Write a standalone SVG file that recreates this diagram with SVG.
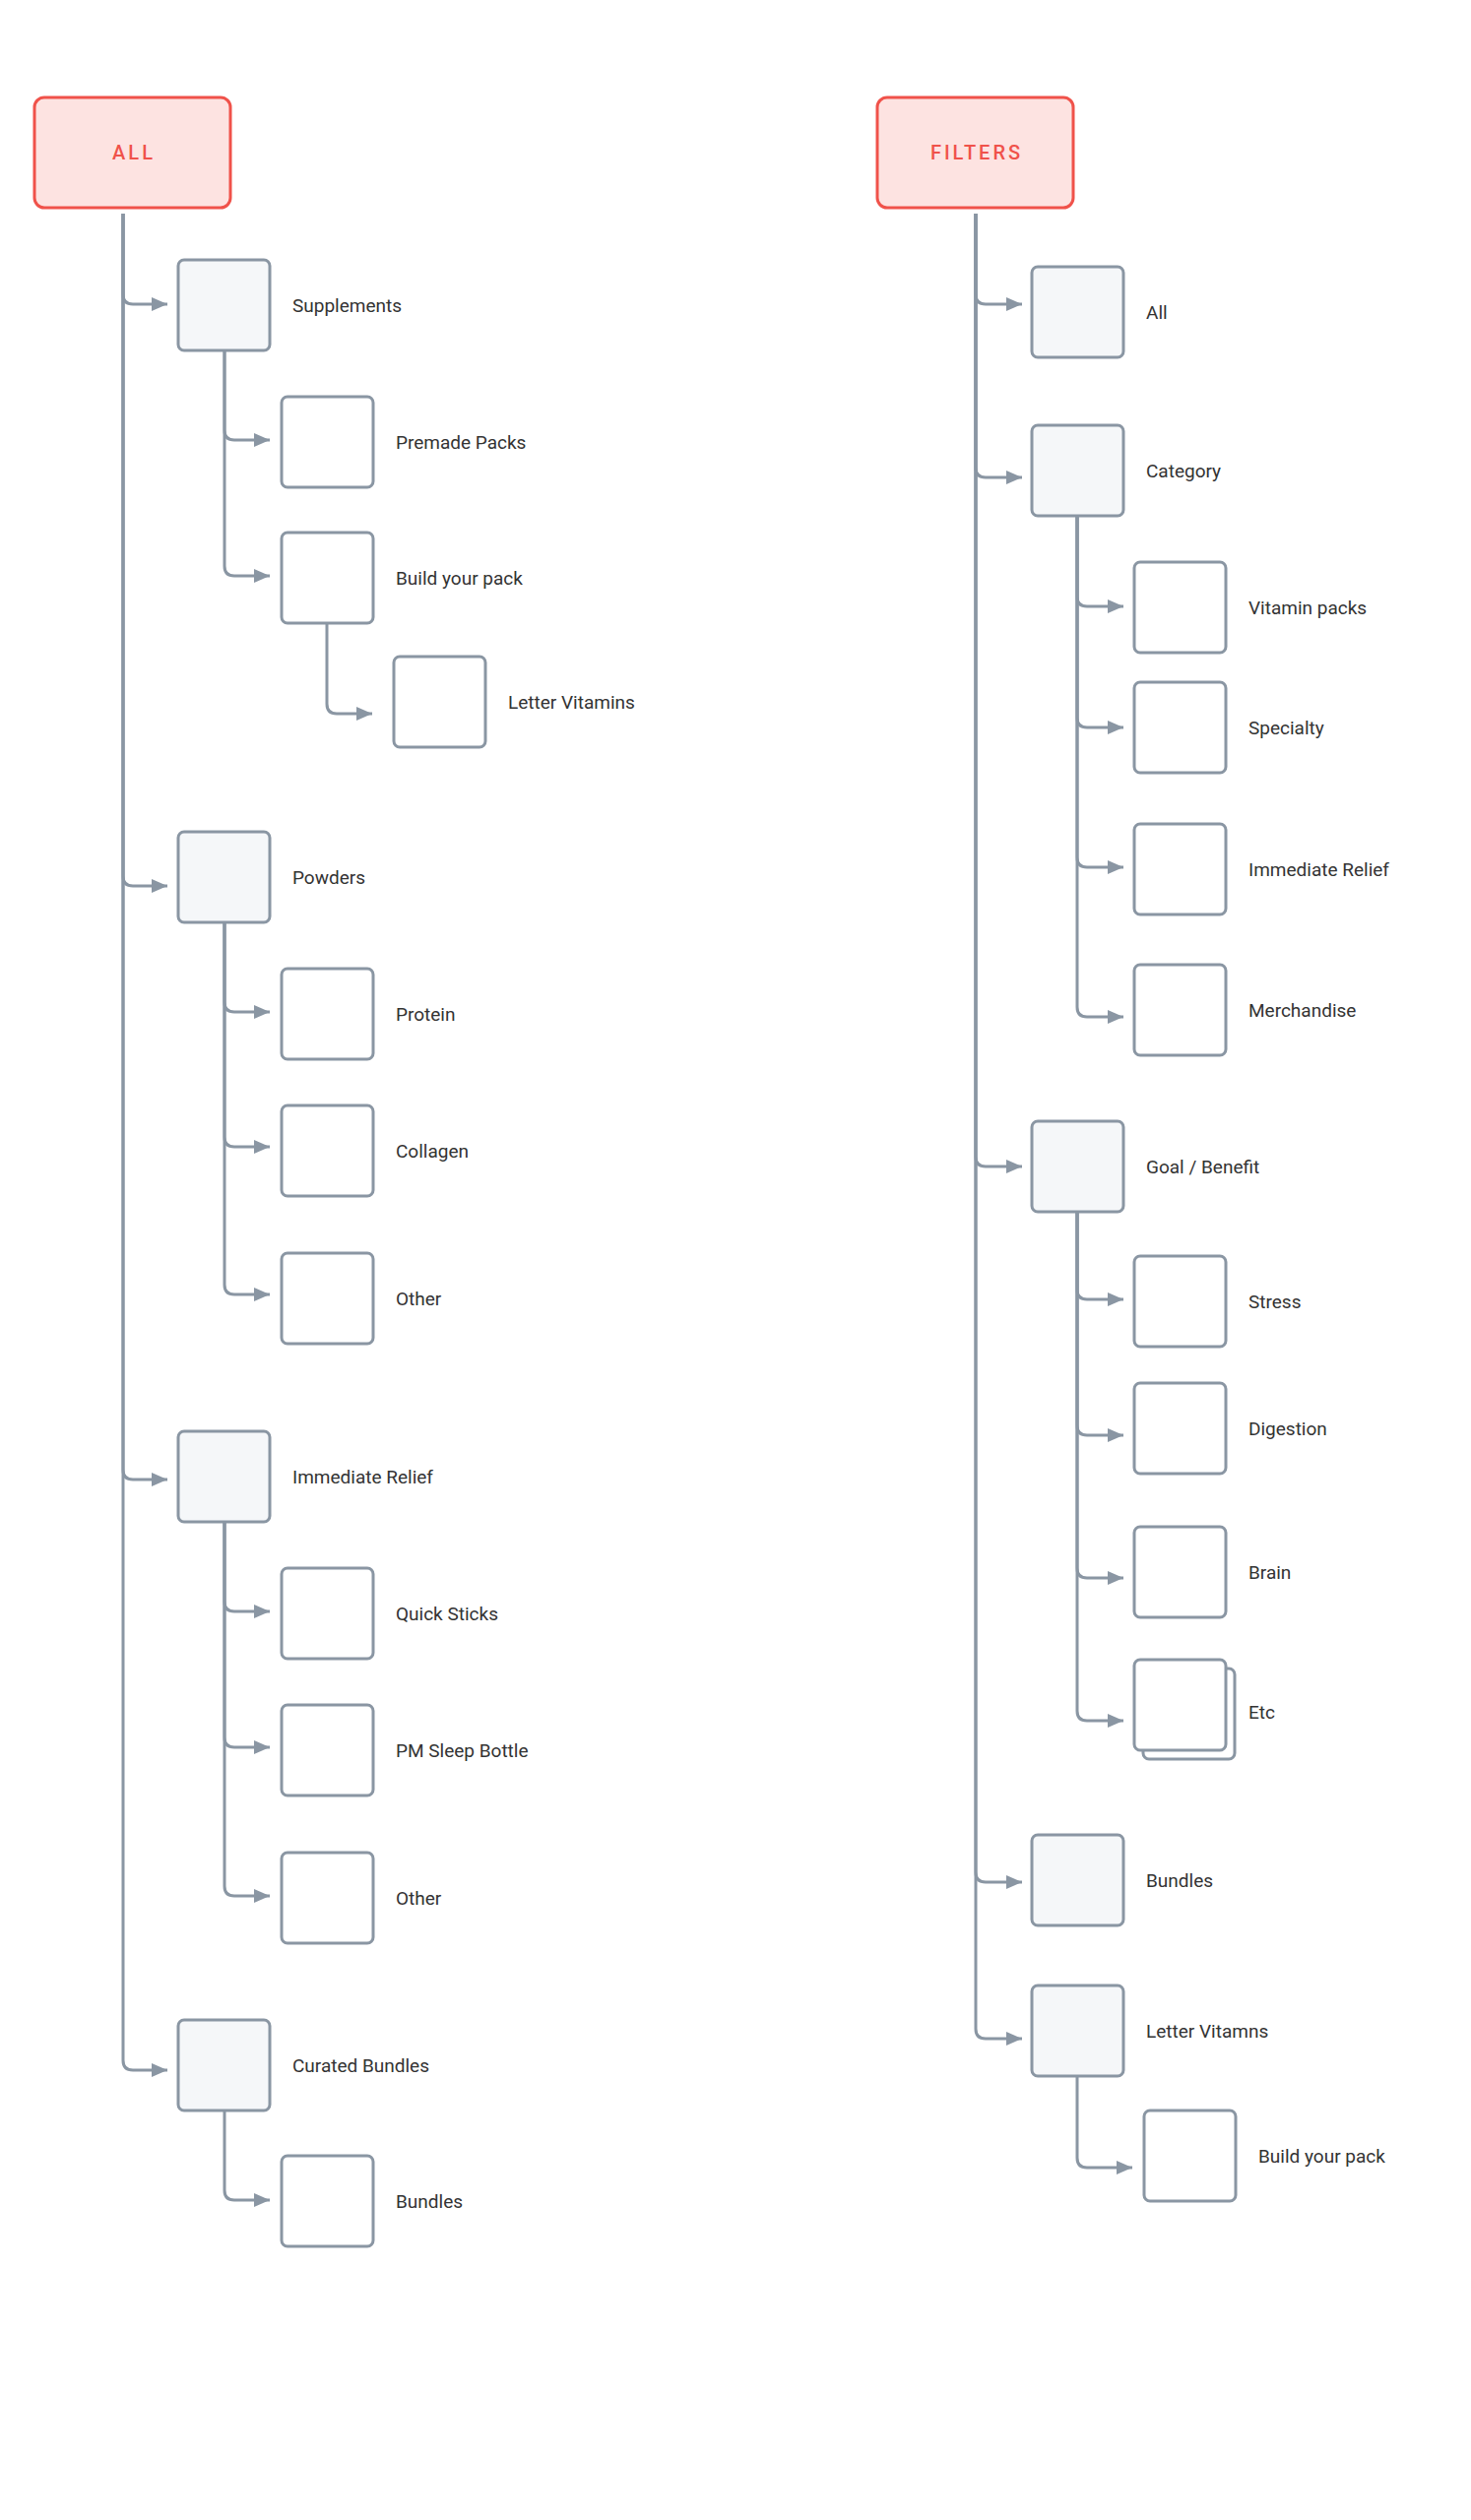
<svg xmlns="http://www.w3.org/2000/svg" width="1494" height="2560" viewBox="0 0 1494 2560">
<style>
.root{fill:#fde3e1;stroke:#f0524a;stroke-width:3}
.rt{font-family:Roboto,"Liberation Sans",sans-serif;font-size:20px;font-weight:500;fill:#f0524a;letter-spacing:3px;text-anchor:middle}
.p{fill:#f5f7f9;stroke:#8a96a3;stroke-width:3}
.c{fill:#ffffff;stroke:#8a96a3;stroke-width:3}
.t{font-family:Roboto,"Liberation Sans",sans-serif;font-size:19px;fill:#333}
.e{fill:none;stroke:#8a96a3;stroke-width:3}
</style>
<defs><marker id="a" markerUnits="userSpaceOnUse" markerWidth="16" markerHeight="16" refX="16" refY="8" orient="auto"><path d="M0,1 L16,8 L0,15 Z" fill="#8a96a3"/></marker></defs>
<rect width="1494" height="2560" fill="#fff"/>
<g id="connectors">
<path class="e" marker-end="url(#a)" d="M125,217 V299 Q125,309 135,309 H170"/>
<path class="e" marker-end="url(#a)" d="M125,217 V890 Q125,900 135,900 H170"/>
<path class="e" marker-end="url(#a)" d="M125,217 V1493 Q125,1503 135,1503 H170"/>
<path class="e" marker-end="url(#a)" d="M125,217 V2093 Q125,2103 135,2103 H170"/>
<path class="e" marker-end="url(#a)" d="M228,356 V437 Q228,447 238,447 H274"/>
<path class="e" marker-end="url(#a)" d="M228,356 V575 Q228,585 238,585 H274"/>
<path class="e" marker-end="url(#a)" d="M332,633 V715 Q332,725 342,725 H378"/>
<path class="e" marker-end="url(#a)" d="M228,937 V1018 Q228,1028 238,1028 H274"/>
<path class="e" marker-end="url(#a)" d="M228,937 V1155 Q228,1165 238,1165 H274"/>
<path class="e" marker-end="url(#a)" d="M228,937 V1305 Q228,1315 238,1315 H274"/>
<path class="e" marker-end="url(#a)" d="M228,1546 V1627 Q228,1637 238,1637 H274"/>
<path class="e" marker-end="url(#a)" d="M228,1546 V1765 Q228,1775 238,1775 H274"/>
<path class="e" marker-end="url(#a)" d="M228,1546 V1916 Q228,1926 238,1926 H274"/>
<path class="e" marker-end="url(#a)" d="M228,2144 V2225 Q228,2235 238,2235 H274"/>
<path class="e" marker-end="url(#a)" d="M991,217 V299 Q991,309 1001,309 H1038"/>
<path class="e" marker-end="url(#a)" d="M991,217 V475 Q991,485 1001,485 H1038"/>
<path class="e" marker-end="url(#a)" d="M991,217 V1175 Q991,1185 1001,1185 H1038"/>
<path class="e" marker-end="url(#a)" d="M991,217 V1902 Q991,1912 1001,1912 H1038"/>
<path class="e" marker-end="url(#a)" d="M991,217 V2061 Q991,2071 1001,2071 H1038"/>
<path class="e" marker-end="url(#a)" d="M1094,525 V606 Q1094,616 1104,616 H1141"/>
<path class="e" marker-end="url(#a)" d="M1094,525 V729 Q1094,739 1104,739 H1141"/>
<path class="e" marker-end="url(#a)" d="M1094,525 V871 Q1094,881 1104,881 H1141"/>
<path class="e" marker-end="url(#a)" d="M1094,525 V1023 Q1094,1033 1104,1033 H1141"/>
<path class="e" marker-end="url(#a)" d="M1094,1232 V1310 Q1094,1320 1104,1320 H1141"/>
<path class="e" marker-end="url(#a)" d="M1094,1232 V1448 Q1094,1458 1104,1458 H1141"/>
<path class="e" marker-end="url(#a)" d="M1094,1232 V1593 Q1094,1603 1104,1603 H1141"/>
<path class="e" marker-end="url(#a)" d="M1094,1232 V1738 Q1094,1748 1104,1748 H1141"/>
<path class="e" marker-end="url(#a)" d="M1094,2110 V2192 Q1094,2202 1104,2202 H1150"/>
</g>
<g id="n-all"><rect class="root" x="35" y="99" width="199" height="112" rx="10"/><text class="rt" x="136" y="162">ALL</text></g>
<g id="n-filters"><rect class="root" x="891" y="99" width="199" height="112" rx="10"/><text class="rt" x="992" y="162">FILTERS</text></g>
<g id="n-supplements"><rect class="p" x="181" y="264" width="93" height="92" rx="6"/><text class="t" x="297" y="317">Supplements</text></g>
<g id="n-premade"><rect class="c" x="286" y="403" width="93" height="92" rx="6"/><text class="t" x="402" y="456">Premade Packs</text></g>
<g id="n-build"><rect class="c" x="286" y="541" width="93" height="92" rx="6"/><text class="t" x="402" y="594">Build your pack</text></g>
<g id="n-letter"><rect class="c" x="400" y="667" width="93" height="92" rx="6"/><text class="t" x="516" y="720">Letter Vitamins</text></g>
<g id="n-powders"><rect class="p" x="181" y="845" width="93" height="92" rx="6"/><text class="t" x="297" y="898">Powders</text></g>
<g id="n-protein"><rect class="c" x="286" y="984" width="93" height="92" rx="6"/><text class="t" x="402" y="1037">Protein</text></g>
<g id="n-collagen"><rect class="c" x="286" y="1123" width="93" height="92" rx="6"/><text class="t" x="402" y="1176">Collagen</text></g>
<g id="n-other1"><rect class="c" x="286" y="1273" width="93" height="92" rx="6"/><text class="t" x="402" y="1326">Other</text></g>
<g id="n-relief"><rect class="p" x="181" y="1454" width="93" height="92" rx="6"/><text class="t" x="297" y="1507">Immediate Relief</text></g>
<g id="n-quick"><rect class="c" x="286" y="1593" width="93" height="92" rx="6"/><text class="t" x="402" y="1646">Quick Sticks</text></g>
<g id="n-pm"><rect class="c" x="286" y="1732" width="93" height="92" rx="6"/><text class="t" x="402" y="1785">PM Sleep Bottle</text></g>
<g id="n-other2"><rect class="c" x="286" y="1882" width="93" height="92" rx="6"/><text class="t" x="402" y="1935">Other</text></g>
<g id="n-curated"><rect class="p" x="181" y="2052" width="93" height="92" rx="6"/><text class="t" x="297" y="2105">Curated Bundles</text></g>
<g id="n-bundles1"><rect class="c" x="286" y="2190" width="93" height="92" rx="6"/><text class="t" x="402" y="2243">Bundles</text></g>
<g id="n-fall"><rect class="p" x="1048" y="271" width="93" height="92" rx="6"/><text class="t" x="1164" y="324">All</text></g>
<g id="n-category"><rect class="p" x="1048" y="432" width="93" height="92" rx="6"/><text class="t" x="1164" y="485">Category</text></g>
<g id="n-vitamin"><rect class="c" x="1152" y="571" width="93" height="92" rx="6"/><text class="t" x="1268" y="624">Vitamin packs</text></g>
<g id="n-specialty"><rect class="c" x="1152" y="693" width="93" height="92" rx="6"/><text class="t" x="1268" y="746">Specialty</text></g>
<g id="n-frelief"><rect class="c" x="1152" y="837" width="93" height="92" rx="6"/><text class="t" x="1268" y="890">Immediate Relief</text></g>
<g id="n-merch"><rect class="c" x="1152" y="980" width="93" height="92" rx="6"/><text class="t" x="1268" y="1033">Merchandise</text></g>
<g id="n-goal"><rect class="p" x="1048" y="1139" width="93" height="92" rx="6"/><text class="t" x="1164" y="1192">Goal / Benefit</text></g>
<g id="n-stress"><rect class="c" x="1152" y="1276" width="93" height="92" rx="6"/><text class="t" x="1268" y="1329">Stress</text></g>
<g id="n-digestion"><rect class="c" x="1152" y="1405" width="93" height="92" rx="6"/><text class="t" x="1268" y="1458">Digestion</text></g>
<g id="n-brain"><rect class="c" x="1152" y="1551" width="93" height="92" rx="6"/><text class="t" x="1268" y="1604">Brain</text></g>
<g id="n-etc"><rect class="c" x="1161" y="1695" width="93" height="92" rx="6"/><rect class="c" x="1152" y="1686" width="93" height="92" rx="6"/><text class="t" x="1268" y="1746">Etc</text></g>
<g id="n-bundles2"><rect class="p" x="1048" y="1864" width="93" height="92" rx="6"/><text class="t" x="1164" y="1917">Bundles</text></g>
<g id="n-lettervit"><rect class="p" x="1048" y="2017" width="93" height="92" rx="6"/><text class="t" x="1164" y="2070">Letter Vitamns</text></g>
<g id="n-build2"><rect class="c" x="1162" y="2144" width="93" height="92" rx="6"/><text class="t" x="1278" y="2197">Build your pack</text></g>
</svg>
